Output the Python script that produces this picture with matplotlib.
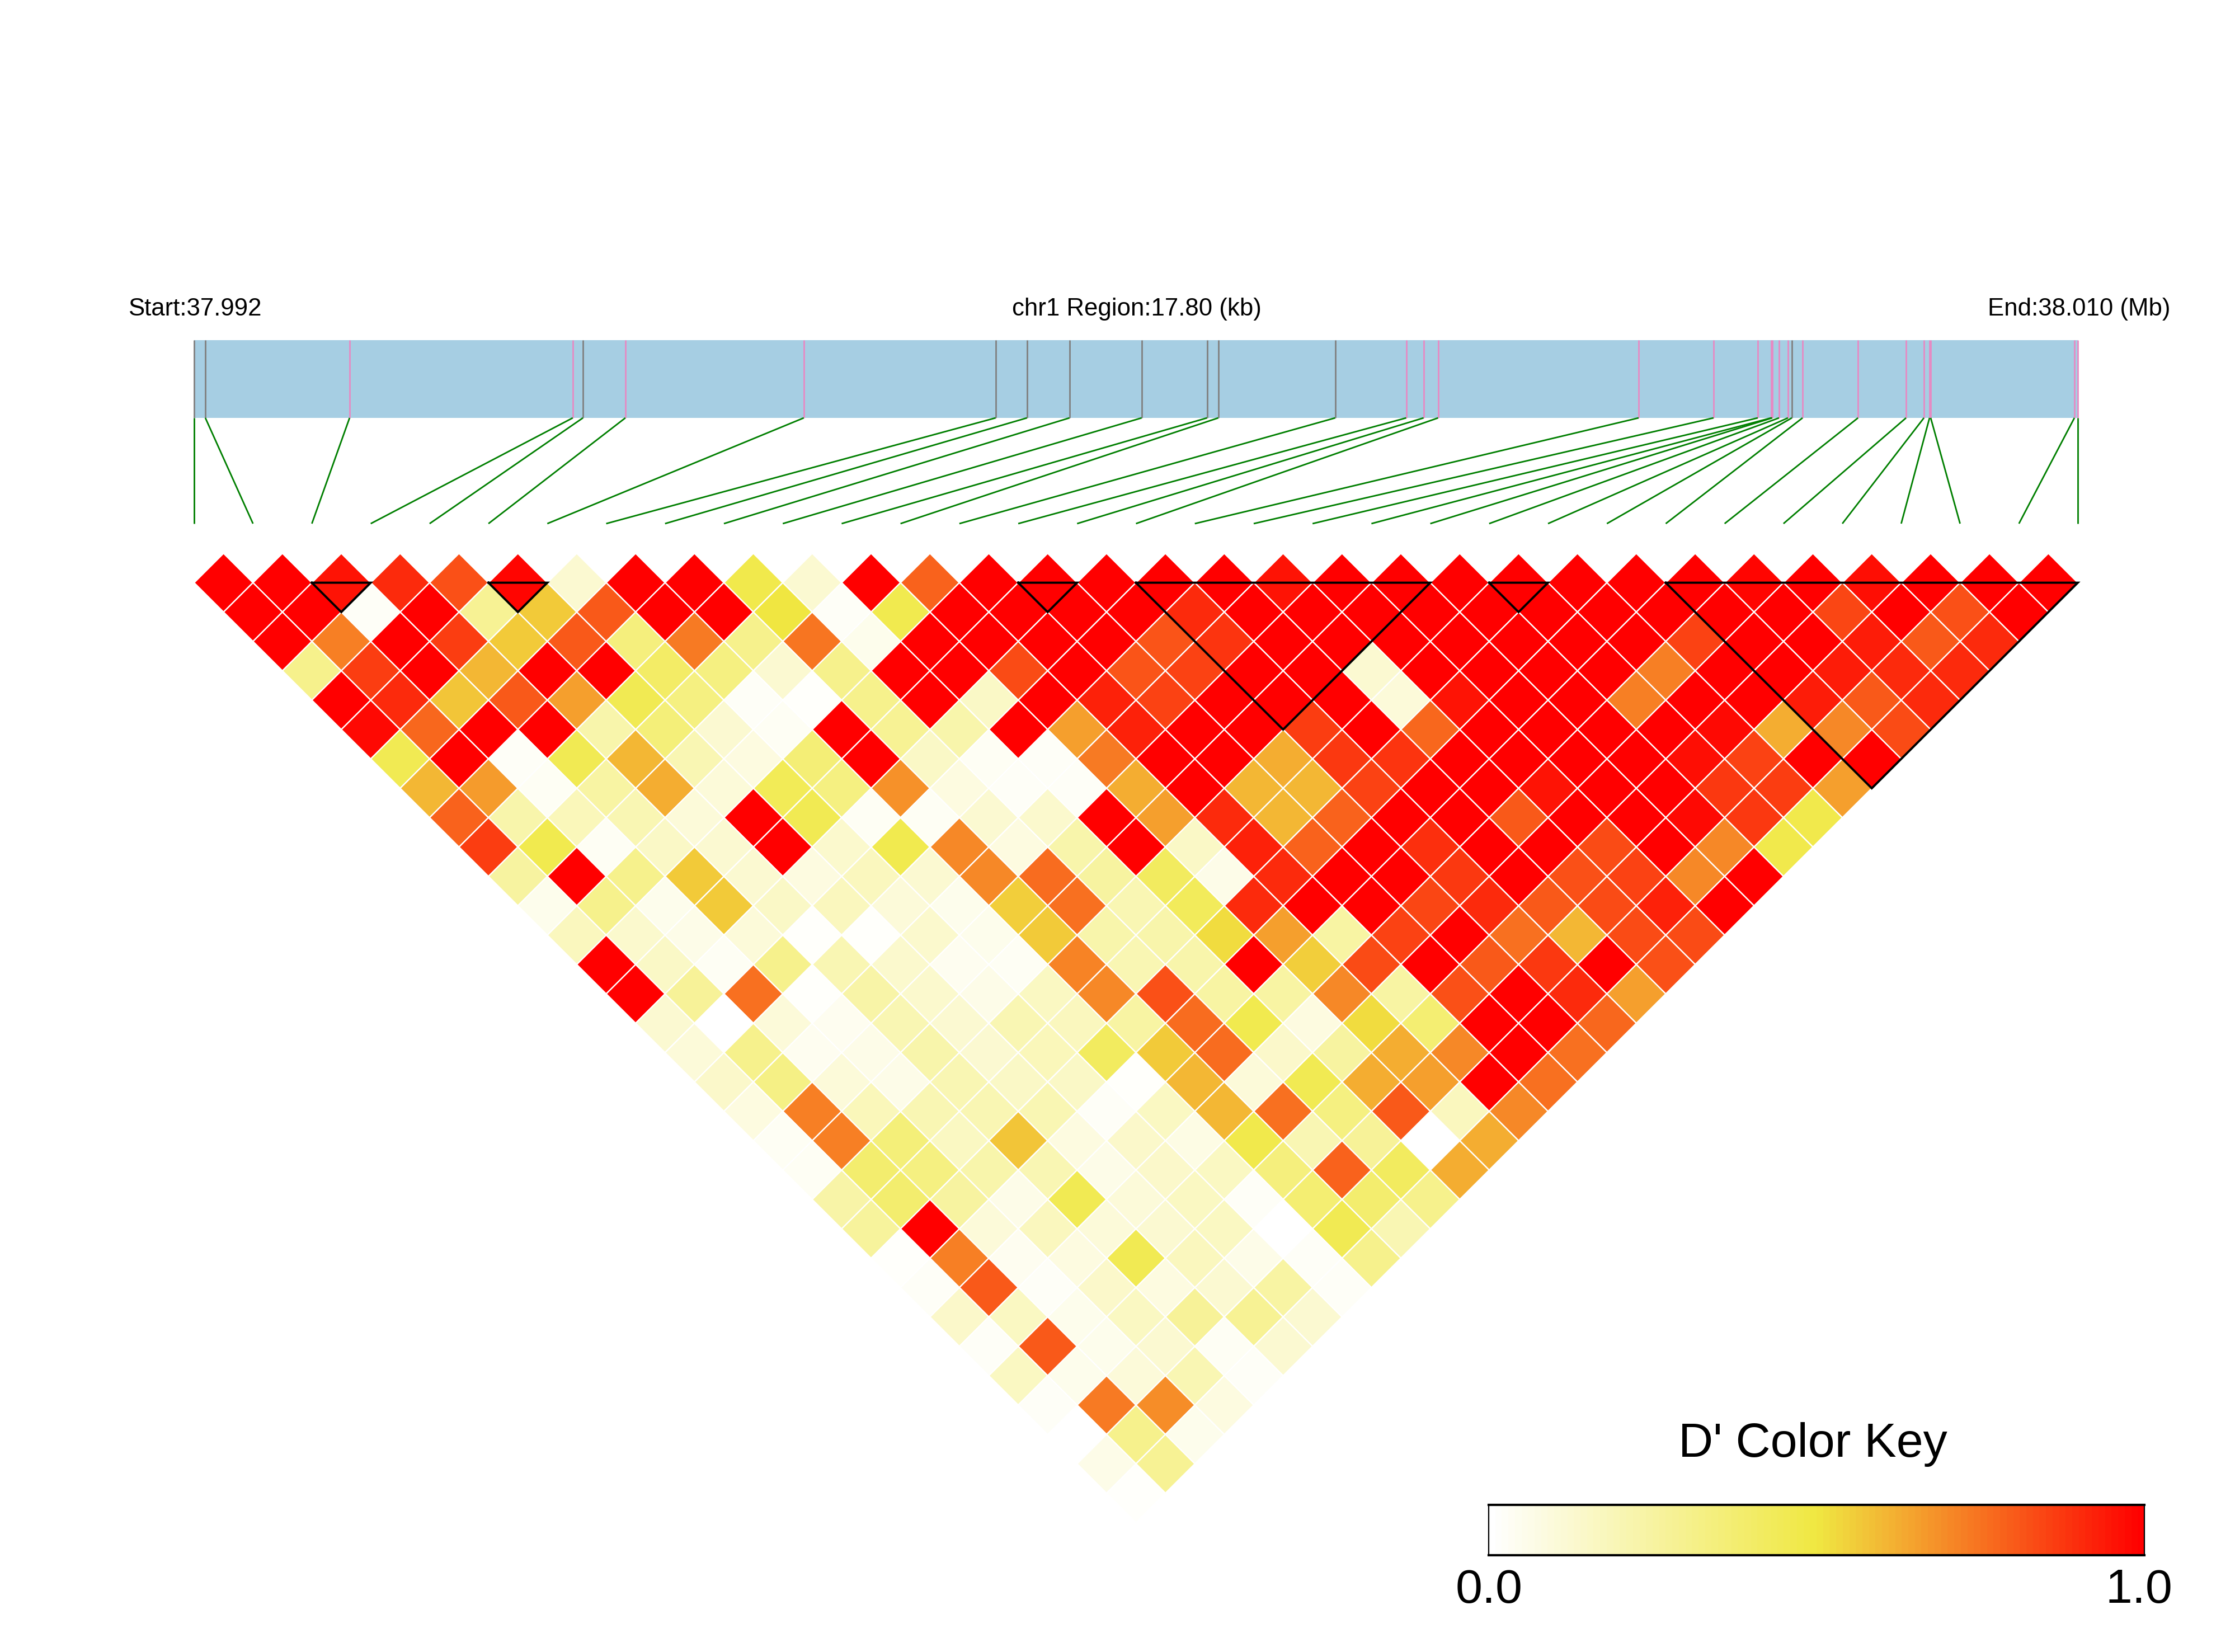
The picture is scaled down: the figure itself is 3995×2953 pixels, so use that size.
import matplotlib
matplotlib.use('Agg')
import matplotlib.pyplot as plt
from matplotlib.collections import PolyCollection
from matplotlib.colors import LinearSegmentedColormap
import numpy as np

plt.rcParams['font.family'] = ['Liberation Sans', 'DejaVu Sans']

# snp positions, kb from the region start
snp_kb = [0, .106, 1.469, 3.578, 3.674, 4.075, 5.761, 7.574, 7.870, 8.272, 8.954,
          9.572, 9.678, 10.783, 11.454, 11.618, 11.755, 13.650, 14.358, 14.776,
          14.903, 14.913, 14.977, 15.061, 15.098, 15.199, 15.723, 16.177, 16.346,
          16.399, 16.410, 17.768, 17.80]
region_kb = 17.80
# 1 = pink marker, 0 = grey marker
snp_pink = [0, 0, 1, 1, 0, 1, 1, 0, 0, 0, 0, 0, 0, 0, 1, 1, 1, 1, 1, 1, 1, 1, 1, 1, 0, 1, 1, 1, 1, 1, 1, 1, 1]

# first and last snp of each LD block
block_first = [2, 5, 14, 16, 22, 25]
block_last = [3, 6, 15, 21, 23, 32]

# D' by snp distance: dprime_rows[k-1][i] is the pair (i, i+k)
dprime_rows = [
    [1, 1, .95, .9, .82, .98, .12, 1, 1, .47, .12, 1, .78, 1, 1, 1, 1, 1, .95, 1, 1, 1, 1, 1, 1, 1, .98, 1, .96, 1, 1, 1],
    [1, 1, .02, 1, .28, .57, .8, 1, 1, .5, .02, .46, 1, 1, 1, 1, .9, 1, 1, 1, 1, 1, 1, 1, 1, 1, 1, .84, 1, .82, 1],
    [1, .72, 1, .86, .57, .8, .34, .73, .3, .74, .05, 1, 1, 1, 1, .81, .88, 1, 1, 1, 1, 1, 1, 1, .85, 1, 1, .93, .8, .9],
    [.3, .86, 1, .6, 1, 1, .4, .33, .12, .3, 1, 1, .83, 1, .81, .85, 1, 1, .12, 1, 1, 1, 1, .72, 1, 1, .93, .9, .9],
    [1, .9, .58, .8, .65, .45, .33, .02, .01, .3, 1, .15, 1, .92, .85, 1, 1, 1, .1, .95, 1, 1, .72, 1, 1, .93, .8, .9],
    [.97, .77, 1, 1, .22, .35, .12, .03, 1, .28, .22, 1, .65, .92, 1, 1, .86, 1, .77, 1, 1, 1, 1, .97, .62, .7, .83],
    [.45, 1, .02, .45, .6, .2, .08, .36, 1, .15, .03, .02, .73, 1, 1, .62, .87, .88, 1, 1, 1, 1, .96, .85, 1, 1],
    [.6, .66, .03, .24, .62, .1, .44, .33, .68, .08, .02, .02, .62, 1, .6, .6, .85, 1, 1, .95, 1, 1, .87, .86, .65],
    [.78, .22, .18, .2, .1, 1, .45, .03, .03, .12, .13, 1, .65, .9, .6, .78, 1, 1, .8, 1, 1, .97, .87, .47],
    [.86, .46, .03, .15, .12, 1, .13, .46, .7, .08, .22, 1, .15, .92, .78, 1, .89, 1, 1, .83, 1, .7, .47],
    [.25, 1, .3, .56, .12, .08, .17, .12, .7, .76, .25, .42, .06, .9, 1, 1, .87, 1, .82, .85, .7, 1],
    [.05, .3, .05, .56, .15, .17, .1, .05, .55, .75, .2, .43, .9, 1, 1, .84, .9, .8, .83, .92, 1],
    [.17, .13, .06, .1, .01, .01, .13, .05, .56, .22, .22, .52, .65, .24, .85, 1, .75, .6, .83, .83],
    [1, .15, .03, .3, .2, .13, .04, .03, .71, .2, .22, 1, .55, .83, 1, .8, .87, 1, .82],
    [1, .27, .75, .01, .23, .13, .06, .16, .7, .82, .24, .24, .7, .24, .82, 1, .9, .65],
    [.12, 0, .1, .04, .2, .12, .2, .17, .24, .76, .46, .08, .52, .37, 1, 1, .77],
    [.1, .3, .04, .06, .22, .12, .18, .42, .57, .76, .14, .25, .62, .7, 1, .75],
    [.14, .32, .1, .06, .2, .15, .15, .01, .6, .1, .45, .62, .65, 1, .75],
    [.08, .72, .18, .2, .2, .2, .02, .16, .6, .75, .33, .8, .17, .7],
    [.03, .72, .35, .16, .58, .08, .14, .07, .47, .2, .27, 0, .62],
    [.03, .38, .33, .22, .2, .06, .14, .16, .34, .78, .42, .62],
    [.23, .38, .25, .06, .45, .1, .16, .02, .37, .38, .3],
    [.26, 1, .1, .17, .1, .12, .16, 0, .45, .2],
    [.01, .72, .04, .08, .45, .17, .06, .02, .3],
    [.02, .8, .02, .14, .08, .12, .24, .02],
    [.14, .16, .05, .16, .27, .28, .12],
    [.02, .8, .05, .12, .03, .12],
    [.16, .05, .1, .2, .02],
    [.02, .73, .69, .08],
    [.005, .3, .05],
    [.06, .28],
    [.01],
]

n_snp = len(snp_kb)
for k, row in enumerate(dprime_rows, start=1):
    assert len(row) == n_snp - k, k

# page layout, in pixels of the output
X0, X1 = 347, 3714
ROW_Y, ROW_H = 1041.6, 52.5
BAR_TOP, BAR_BOTTOM, FAN_BOTTOM = 608, 747, 936
GREEN = '#007F00'
PINK = '#E78AC3'
GREY = '#808080'


def cell_x(pos):
    return X0 + pos * (X1 - X0) / (n_snp - 1)


def cell_y(k):
    return ROW_Y + (k - 1) * ROW_H


def kb_x(kb):
    return X0 + kb * (X1 - X0) / region_kb


cmap = LinearSegmentedColormap.from_list('dprime', ['#FFFFFF', '#F0E842', '#FF0000'], N=100)

fig = plt.figure(figsize=(39.95, 29.53), dpi=100)
ax = fig.add_axes([0, 0, 1, 1])
ax.set_xlim(0, 3995)
ax.set_ylim(2953, 0)
ax.axis('off')

# region bar and snp markers
ax.fill_between([kb_x(0), kb_x(region_kb)], BAR_TOP, BAR_BOTTOM, color='#A6CEE3', lw=0, zorder=1)
for i, kb in enumerate(snp_kb):
    x = kb_x(kb)
    ax.plot([x, x], [BAR_TOP, BAR_BOTTOM], color=PINK if snp_pink[i] else GREY, lw=2.0,
            solid_capstyle='butt', zorder=2)
    ax.plot([x, cell_x(i)], [BAR_BOTTOM, FAN_BOTTOM], color=GREEN, lw=2.0,
            solid_capstyle='butt', zorder=2)

ax.text(229, 564, 'Start:37.992', fontsize=31.5, ha='left', va='baseline')
ax.text(1809, 564, 'chr1 Region:17.80 (kb)', fontsize=31.5, ha='left', va='baseline')
ax.text(3553, 564, 'End:38.010 (Mb)', fontsize=31.5, ha='left', va='baseline')

# LD triangle
polys = []
values = []
for k, row in enumerate(dprime_rows, start=1):
    for i, v in enumerate(row):
        mid = i + k / 2
        polys.append([(cell_x(mid - .5), cell_y(k)), (cell_x(mid), cell_y(k - 1)),
                      (cell_x(mid + .5), cell_y(k)), (cell_x(mid), cell_y(k + 1))])
        values.append(v)
cells = PolyCollection(polys, array=np.array(values), cmap=cmap, clim=(0, 1),
                       edgecolors='white', linewidths=1.7, zorder=3)
ax.add_collection(cells)

# block outlines
for a, b in zip(block_first, block_last):
    ax.plot([cell_x(a), cell_x(b), cell_x((a + b) / 2), cell_x(a)],
            [cell_y(1), cell_y(1), cell_y(b - a + 1), cell_y(1)],
            color='black', lw=2.8, solid_joinstyle='miter', zorder=4)

# color key
key_left, key_right, key_top, key_bottom = 2661, 3833, 2690, 2780
levels = np.linspace(0, 1, 100).reshape(1, -1)
ax.imshow(levels, cmap=cmap, vmin=0, vmax=1, aspect='auto', interpolation='nearest',
          extent=(key_left, key_right, key_bottom, key_top), zorder=3)
ax.set_xlim(0, 3995)
ax.set_ylim(2953, 0)
ax.plot([key_left, key_left], [key_top, key_bottom], color='black', lw=1.6, zorder=4)
ax.plot([key_right, key_right], [key_top, key_bottom], color='black', lw=1.6, zorder=4)
ax.plot([key_left, key_right], [key_top, key_top], color='black', lw=3.0, zorder=4)
ax.plot([key_left, key_right], [key_bottom, key_bottom], color='black', lw=3.0, zorder=4)
ax.text(3240, 2604, "D' Color Key", fontsize=62, ha='center', va='baseline')
ax.text(2662, 2865, '0.0', fontsize=62, ha='center', va='baseline')
ax.text(3823, 2865, '1.0', fontsize=62, ha='center', va='baseline')

fig.savefig('out.png', dpi=100)
